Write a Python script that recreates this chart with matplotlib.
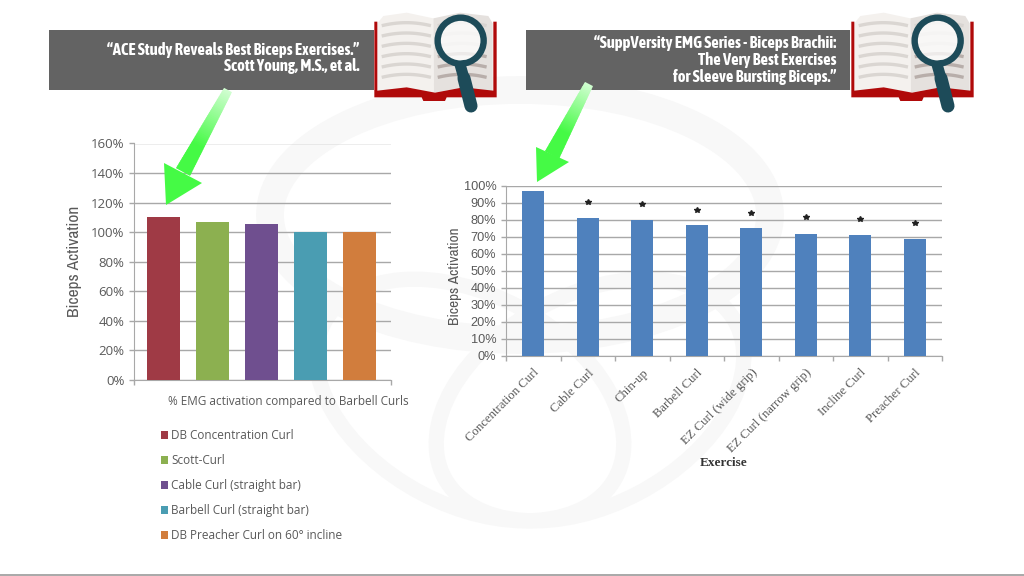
# -*- coding: utf-8 -*-
import numpy as np
import matplotlib
matplotlib.use('Agg')
import matplotlib.pyplot as plt
from matplotlib.patches import Polygon, Ellipse, Circle, Rectangle

# ========== Data ==========
left_names = ['DB Concentration Curl', 'Scott-Curl', 'Cable Curl (straight bar)',
              'Barbell Curl (straight bar)', 'DB Preacher Curl on 60° incline']
left_values = [110.5, 107, 105.5, 100, 100]
left_colors = ['#9f3a45', '#8cb050', '#6f4f8f', '#4a9db2', '#d17d3d']
left_ticks = [0, 20, 40, 60, 80, 100, 120, 140, 160]

right_names = ['Concentration Curl', 'Cable Curl', 'Chin-up', 'Barbell Curl',
               'EZ Curl (wide grip)', 'EZ Curl (narrow grip)', 'Incline Curl', 'Preacher Curl']
right_values = [97, 81, 80, 77, 75, 72, 71, 69]
star_heights = [None, 90.5, 89.5, 86, 84, 81.5, 80.3, 78.3]
right_ticks = [0, 10, 20, 30, 40, 50, 60, 70, 80, 90, 100]

left_banner = ['“ACE Study Reveals Best Biceps Exercises.”', 'Scott Young, M.S., et al.']
right_banner = ['“SuppVersity EMG Series - Biceps Brachii:', 'The Very Best Exercises',
                'for Sleeve Bursting Biceps.”']

W, H = 1024, 576
GRID = '#a8a8a8'
TXT = '#595959'
NARROW = ['Archivo Narrow', 'Liberation Sans']
BANNER = ['Asap Condensed', 'Liberation Sans']
GREEN = np.array([0.27, 0.98, 0.27])
MARK = '#f8f8f8'


def px_axes(fig, x0, y0, x1, y1, **kw):
    """Axes placed from pixel corners (y measured from the top)."""
    return fig.add_axes([x0 / W, 1 - y1 / H, (x1 - x0) / W, (y1 - y0) / H], **kw)


def zoom_pts(pts, dx=0):
    """Book shapes were measured on a 3x crop starting at x=40."""
    return [(40 + x / 3 + dx, y / 3) for x, y in pts]


def page_line(ax, x0, x1, yy, color, dx):
    t = np.linspace(-1, 1, 15)
    xs = (x0 + x1) / 2 + t * (x1 - x0) / 2
    ys = yy - 8 * (1 - t ** 2)
    ax.plot(*zip(*zoom_pts(list(zip(xs, ys)), dx)), color=color, lw=2.4, zorder=5)


def draw_book(ax, dx):
    ax.add_patch(Polygon(zoom_pts([(1012, 70), (1030, 48), (1100, 38), (1180, 55), (1182, 278), (1100, 262), (1012, 280)], dx),
                         fc='#f4f1ee', ec='none', zorder=3))
    ax.add_patch(Polygon(zoom_pts([(1180, 55), (1260, 38), (1345, 48), (1358, 70), (1358, 280), (1270, 262), (1182, 278)], dx),
                         fc='#e5e1de', ec='none', zorder=3))
    ax.add_patch(Polygon(zoom_pts([(1003, 65), (1012, 65), (1012, 272), (1100, 262), (1185, 278), (1270, 262),
                                   (1360, 272), (1360, 65), (1370, 65), (1370, 292), (1220, 292), (1215, 303),
                                   (1150, 303), (1145, 292), (1003, 292)], dx),
                         fc='#b00a0a', ec='none', zorder=4))
    for k in range(6):
        yy = 76 + k * 31
        page_line(ax, 1030, 1168, yy, '#dad6d2', dx)
        page_line(ax, 1198, 1335, yy, '#b8aeaa' if k >= 3 else '#d8d4d1', dx)
    cx, cy = zoom_pts([(1262, 122)], dx)[0]
    ax.add_patch(Circle((cx, cy), 23, fc='#ffffff', alpha=0.75, ec='none', zorder=6))
    ax.add_patch(Circle((cx, cy), 23, fc='none', ec='#1d4b59', lw=4.6, zorder=7))
    ax.plot(*zip(*zoom_pts([(1262, 200), (1272, 235)], dx)), color='#1d4b59', lw=8, zorder=7)
    ax.plot(*zip(*zoom_pts([(1272, 235), (1293, 318)], dx)), color='#1d4b59', lw=9.4,
            solid_capstyle='round', zorder=7)


def draw_arrow(ax, top, neck, tip, c1, c2):
    """Green arrow: shaft tapers and fades out toward its top."""
    top, neck = np.array(top, float), np.array(neck, float)
    d = neck - top
    u = np.array([-d[1], d[0]]) / np.hypot(*d)
    steps = 50
    for i in range(steps):
        f0, f1 = i / steps, min((i + 1.6) / steps, 1)
        a, b = top + d * f0, top + d * f1
        w0, w1 = 4.5 + 3.5 * f0, 4.5 + 3.5 * f1
        mix = 0.25 + 0.75 * min(f0 * 1.5, 1)
        col = GREEN * mix + (1 - mix)
        ax.add_patch(Polygon([a - u * w0, a + u * w0, b + u * w1, b - u * w1], fc=col, ec='none', zorder=8))
    ax.add_patch(Polygon([c1, c2, tip], fc=GREEN, ec='none', zorder=8))


fig = plt.figure(figsize=(W / 100, H / 100), dpi=100, facecolor='white')

# ========== Background watermark ==========
bg = px_axes(fig, 0, 0, W, H)
bg.set_xlim(0, W)
bg.set_ylim(H, 0)
bg.axis('off')
bg.add_patch(Ellipse((520, 215), 500, 250, fc='none', ec=MARK, lw=20))
bg.add_patch(Ellipse((470, 400), 330, 210, angle=28, fc='none', ec=MARK, lw=11))
bg.add_patch(Ellipse((590, 400), 330, 210, angle=-28, fc='none', ec=MARK, lw=11))
bg.plot([0, W], [575, 575], color='#9a9a9a', lw=1.2)

# ========== Left chart ==========
ax1 = px_axes(fig, 134, 143.5, 391, 380)
ax1.patch.set_alpha(0)
xs1 = np.arange(len(left_values))
bars1 = ax1.bar(xs1, left_values, width=0.69, color=left_colors, zorder=3)
ax1.set_xlim(-0.602, 4.643)
ax1.set_ylim(0, 160)
ax1.set_yticks(left_ticks)
ax1.set_yticklabels(['%d%%' % v for v in left_ticks], fontsize=9.5, color=TXT, family='Open Sans')
ax1.set_xticks([-0.602, 4.643])
ax1.set_xticklabels([])
ax1.tick_params(axis='both', color=GRID, length=3.5, width=1)
ax1.grid(True, axis='y', color=GRID, lw=1.0, zorder=0)
for s in ['top', 'right']:
    ax1.spines[s].set_visible(False)
for s in ['left', 'bottom']:
    ax1.spines[s].set_color(GRID)
ax1.set_ylabel('Biceps Activation', fontsize=12.5, color=TXT, family=NARROW)
ax1.yaxis.set_label_coords(-0.203, 0.5)
ax1.text(0.6, -0.0897, '% EMG activation compared to Barbell Curls', transform=ax1.transAxes,
         ha='center', va='center', fontsize=8.5, color=TXT, family='Open Sans')
fig.legend(bars1, left_names, loc='upper left', bbox_to_anchor=(150 / W, 1 - 418.5 / H),
           frameon=False, labelcolor=TXT, handlelength=0.6, handleheight=0.6,
           handletextpad=0.32, labelspacing=1.02, prop={'family': 'Open Sans', 'size': 8.5})

# ========== Right chart ==========
ax2 = px_axes(fig, 506, 186, 942, 355.7)
ax2.patch.set_alpha(0)
xs2 = np.arange(len(right_values))
ax2.bar(xs2, right_values, width=0.41, color='#4f81bd', zorder=3)
for x, h in zip(xs2, star_heights):
    if h is not None:
        ax2.plot(x, h, marker='*', ms=4.2, color='#222222', zorder=4)
ax2.set_xlim(-0.5, len(right_values) - 0.5)
ax2.set_ylim(0, 100)
ax2.set_yticks(right_ticks)
ax2.set_yticklabels(['%d%%' % v for v in right_ticks], fontsize=9.2, color=TXT, family='Liberation Sans')
ax2.set_xticks(np.arange(len(right_values) + 1) - 0.5)
ax2.set_xticklabels([])
ax2.set_xticks(xs2, minor=True)
ax2.set_xticklabels(right_names, minor=True, rotation=45, ha='right', rotation_mode='anchor',
                    fontsize=9.2, color=TXT, family='Liberation Serif')
ax2.tick_params(axis='x', which='minor', length=0, pad=8)
ax2.tick_params(axis='both', which='major', color=GRID, length=3.5, width=1)
ax2.grid(True, axis='y', color=GRID, lw=1.0, zorder=0)
for s in ['top', 'right']:
    ax2.spines[s].set_visible(False)
for s in ['left', 'bottom']:
    ax2.spines[s].set_color(GRID)
ax2.set_ylabel('Biceps Activation', fontsize=11, color=TXT, family=NARROW)
ax2.yaxis.set_label_coords(-0.1, 0.47)
ax2.text(0.5, -0.632, 'Exercise', transform=ax2.transAxes, ha='center', va='center',
         fontsize=9.5, fontweight='bold', color='#333333', family='Liberation Serif')

# ========== Banners, books and arrows ==========
top = px_axes(fig, 0, 0, W, H)
top.patch.set_alpha(0)
top.set_xlim(0, W)
top.set_ylim(H, 0)
top.axis('off')
top.add_patch(Rectangle((49, 29.5), 325, 60, fc='#636363', ec='none', zorder=2))
top.add_patch(Rectangle((526, 29.5), 324, 60, fc='#636363', ec='none', zorder=2))
for line, y in zip(left_banner, [49.5, 66.5]):
    top.text(359, y, line, ha='right', va='center', color='white', fontsize=12,
             fontweight='bold', family=BANNER, zorder=3)
for line, y in zip(right_banner, [43, 60, 77]):
    top.text(836, y, line, ha='right', va='center', color='white', fontsize=12,
             fontweight='bold', family=BANNER, zorder=3)
draw_book(top, 0)
draw_book(top, 477)
draw_arrow(top, (228, 90), (183, 172), (166, 205), (164, 163), (202, 183))
draw_arrow(top, (589, 84), (552, 155), (537, 182), (536, 147), (569, 162))

plt.savefig('out.png', dpi=100)
